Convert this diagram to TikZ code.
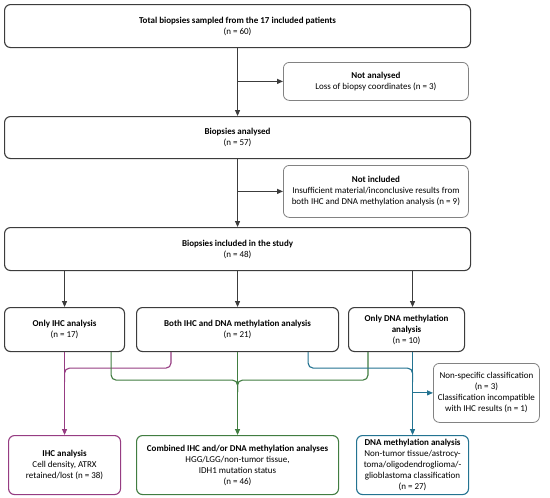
\documentclass[tikz,border=0pt]{standalone}
\usepackage{fontspec}
\setmainfont{Carlito}
\usetikzlibrary{arrows.meta,calc}
\definecolor{boxc}{RGB}{60,60,60}
\definecolor{sidec}{RGB}{130,130,130}
\definecolor{purp}{RGB}{150,60,130}
\definecolor{grn}{RGB}{65,125,65}
\definecolor{blu}{RGB}{35,115,145}
\tikzset{
  mainbox/.style={draw=boxc, line width=1.1pt, rounded corners=6pt, align=center, anchor=north west, inner sep=0pt, font=\fontsize{9}{11}\selectfont},
  sidebox/.style={mainbox, draw=sidec, line width=0.8pt},
  conn/.style={line width=1.1pt, draw=boxc},
  arr/.style={-{Triangle[length=6pt,width=5pt]}},
  rnd/.style={rounded corners=5pt},
}
\newcommand{\bx}[7]{\node[#1, minimum width=#4-#2, minimum height=#5-#3] (#6) at (#2,#3) {#7};}
\begin{document}
\begin{tikzpicture}[x=1pt,y=-1pt]
\useasboundingbox[fill=white] (0,0) rectangle (550,498);
\bx{mainbox}{4}{4}{470}{47}{b1}{\textbf{Total biopsies sampled from the 17 included patients}\\(n = 60)}
\bx{sidebox}{283}{62}{468}{100}{na}{\textbf{Not analysed}\\Loss of biopsy coordinates (n = 3)}
\bx{mainbox}{4}{116}{470}{158}{b2}{\textbf{Biopsies analysed}\\(n = 57)}
\bx{sidebox}{283}{165}{468}{217}{ni}{\textbf{Not included}\\Insufficient material/inconclusive results from\\both IHC and DNA methylation analysis (n = 9)}
\bx{mainbox}{4}{227}{470}{270}{b3}{\textbf{Biopsies included in the study}\\(n = 48)}
\bx{mainbox}{4}{307}{124}{351}{ihc}{\textbf{Only IHC analysis}\\(n = 17)}
\bx{mainbox}{136}{307}{338}{351}{both}{\textbf{Both IHC and DNA methylation analysis}\\(n = 21)}
\bx{mainbox}{348}{307}{464}{351}{dna}{\textbf{Only DNA methylation}\\\textbf{analysis}\\(n = 10)}
\bx{sidebox}{433}{363}{539}{422}{ns}{Non-specific classification\\(n = 3)\\Classification incompatible\\with IHC results (n = 1)}
\bx{mainbox, draw=purp}{8}{435}{120}{494}{ihcres}{\textbf{IHC analysis}\\Cell density, ATRX\\retained/lost (n = 38)}
\bx{mainbox, draw=grn}{136}{435}{338}{494}{comb}{\textbf{Combined IHC and/or DNA methylation analyses}\\HGG/LGG/non-tumor tissue,\\IDH1 mutation status\\(n = 46)}
\bx{mainbox, draw=blu}{356}{435}{468}{494}{dnares}{\textbf{DNA methylation analysis}\\Non-tumor tissue/astrocy-\\toma/oligodendroglioma/-\\glioblastoma classification\\(n = 27)}
% black flow
\draw[conn,arr] (b1.south -| both.north) -- (b2.north -| both.north);
\draw[conn,arr] (both.north |- na.west) -- (na.west);
\draw[conn,arr] (b2.south -| both.north) -- (b3.north -| both.north);
\draw[conn,arr] (both.north |- ni.west) -- (ni.west);
\draw[conn,arr] (b3.south -| ihc.north) -- (ihc.north);
\draw[conn,arr] (b3.south -| both.north) -- (both.north);
\draw[conn,arr] (b3.south -| dnares.north) -- (dna.north -| dnares.north);
% purple
\draw[conn,draw=purp,arr] (ihc.south) -- (ihcres.north -| ihc.south);
\draw[conn,draw=purp,rnd] ($(both.south west)+(35,0)$) |- ($(ihc.south)+(0,16)$) -- ($(ihc.south)+(0,30)$);
% green
\draw[conn,draw=grn,rnd] ($(ihc.south east)+(-14,0)$) |- ($(both.south)+(0,28)$) -- ($(both.south)+(0,40)$);
\draw[conn,draw=grn,rnd] ($(dna.south west)+(20,0)$) |- ($(both.south)+(0,28)$) -- ($(both.south)+(0,40)$);
\draw[conn,draw=grn,arr] (both.south) -- (comb.north);
% blue
\draw[conn,draw=blu,rnd] ($(both.south east)+(-31,0)$) |- ($(dna.south -| dnares.north)+(0,16)$) -- ($(dna.south -| dnares.north)+(0,30)$);
\draw[conn,draw=blu,arr] (dna.south -| dnares.north) -- (dnares.north);
\draw[conn,draw=blu,arr] (dnares.north |- ns.west) -- (ns.west);
\end{tikzpicture}
\end{document}
